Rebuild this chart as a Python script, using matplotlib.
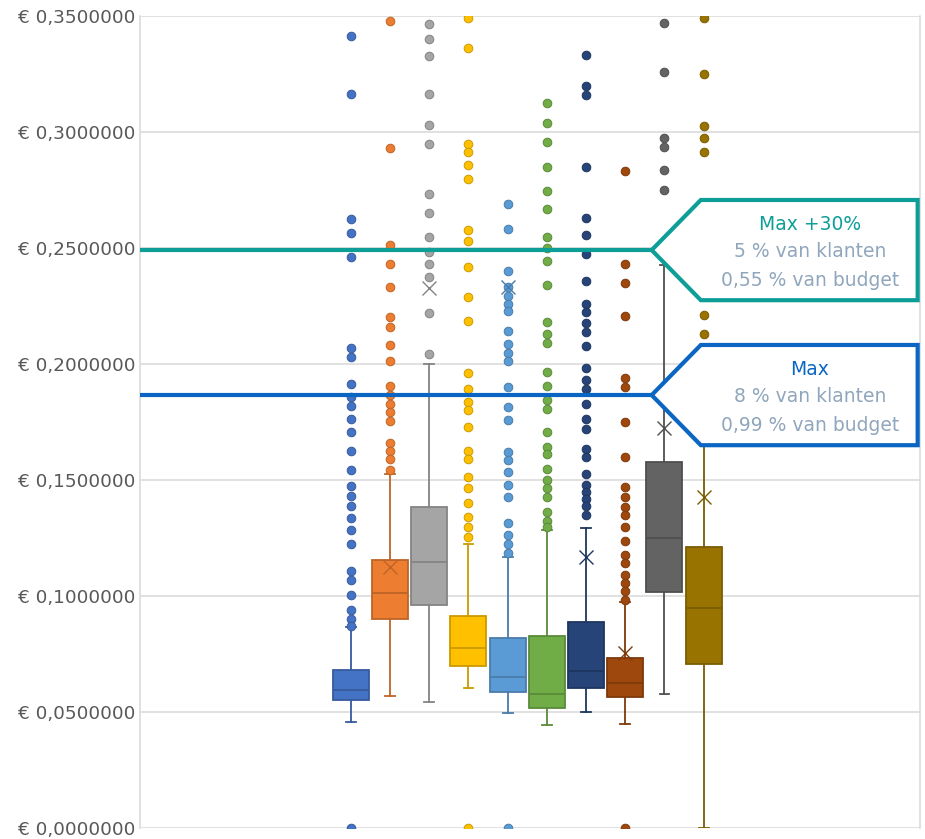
import matplotlib
matplotlib.use("Agg")
import matplotlib.pyplot as plt
from matplotlib.colors import to_rgb
from matplotlib.patches import Polygon
from matplotlib.ticker import FuncFormatter, MultipleLocator

nan = float("nan")

# ten series, Excel style box-and-whisker
series = ["R1", "R2", "R3", "R4", "R5", "R6", "R7", "R8", "R9", "R10"]
colors = ["#4472C4", "#ED7D31", "#A5A5A5", "#FFC000", "#5B9BD5",
          "#70AD47", "#264478", "#9E480E", "#636363", "#997300"]

q1 = [0.0552, 0.0901, 0.0961, 0.0698, 0.0586, 0.0517, 0.0603, 0.0565, 0.1017, 0.0707]
medians = [0.0595, 0.1013, 0.1147, 0.0776, 0.0651, 0.0578, 0.0677, 0.0625, 0.1250, 0.0948]
q3 = [0.0681, 0.1155, 0.1384, 0.0914, 0.0819, 0.0828, 0.0888, 0.0733, 0.1578, 0.1211]
whis_lo = [0.0457, 0.0569, 0.0543, 0.0603, 0.0496, 0.0444, 0.0500, 0.0448, 0.0578, 0.0000]
whis_hi = [0.0866, 0.1526, 0.2000, 0.1224, 0.1168, 0.1284, 0.1293, 0.0974, 0.2427, 0.1920]
# means that are hidden in the picture are left out
means = [nan, 0.1125, 0.2328, nan, 0.2332, nan, 0.1168, 0.0754, 0.1724, 0.1427]

outliers = [
    [0.3414, 0.3164, 0.2625, 0.2565, 0.2461, 0.2069, 0.2030, 0.1914, 0.1858, 0.1819,
     0.1763, 0.1707, 0.1625, 0.1543, 0.1474, 0.1431, 0.1388, 0.1336, 0.1284, 0.1224,
     0.1108, 0.1069, 0.1004, 0.0940, 0.0901, 0.0871, 0.0],
    [0.3478, 0.2931, 0.2513, 0.2431, 0.2332, 0.2203, 0.2159, 0.2082, 0.2013, 0.1905,
     0.1866, 0.1828, 0.1793, 0.1754, 0.1659, 0.1625, 0.1591, 0.1543],
    [0.3466, 0.3401, 0.3328, 0.3164, 0.3030, 0.2948, 0.2733, 0.2651, 0.2547, 0.2483,
     0.2431, 0.2375, 0.2220, 0.2043],
    [0.3491, 0.3362, 0.2948, 0.2914, 0.2858, 0.2797, 0.2578, 0.2530, 0.2418, 0.2289,
     0.2185, 0.1961, 0.1892, 0.1836, 0.1802, 0.1728, 0.1625, 0.1591, 0.1513, 0.1466,
     0.1401, 0.1341, 0.1297, 0.1254, 0.0],
    [0.2690, 0.2582, 0.2401, 0.2332, 0.2293, 0.2259, 0.2228, 0.2142, 0.2086, 0.2047,
     0.2013, 0.1901, 0.1815, 0.1759, 0.1621, 0.1586, 0.1534, 0.1478, 0.1427, 0.1315,
     0.1263, 0.1224, 0.1185, 0.0],
    [0.3125, 0.3039, 0.2957, 0.2849, 0.2746, 0.2668, 0.2547, 0.2500, 0.2444, 0.2341,
     0.2181, 0.2129, 0.2091, 0.1966, 0.1905, 0.1845, 0.1806, 0.1707, 0.1642, 0.1612,
     0.1547, 0.1500, 0.1466, 0.1427, 0.1362, 0.1323, 0.1297],
    [0.3332, 0.3198, 0.3159, 0.2849, 0.2629, 0.2556, 0.2474, 0.2358, 0.2259, 0.2224,
     0.2177, 0.2138, 0.2078, 0.1983, 0.1931, 0.1892, 0.1828, 0.1763, 0.1720, 0.1634,
     0.1599, 0.1526, 0.1478, 0.1448, 0.1418, 0.1388, 0.1349],
    [0.2832, 0.2431, 0.2349, 0.2207, 0.1940, 0.1901, 0.1750, 0.1599, 0.1470, 0.1427,
     0.1384, 0.1349, 0.1297, 0.1237, 0.1177, 0.1142, 0.1091, 0.1056, 0.1022, 0.0983, 0.0],
    [0.3470, 0.3259, 0.2974, 0.2935, 0.2836, 0.2750],
    [0.3491, 0.3250, 0.3026, 0.2974, 0.2914, 0.2211, 0.2129],
]

# reference lines with their callouts
max_line = 0.1866
max30_line = 0.2491
teal = "#0E9E98"
blue = "#0A66C2"
note_grey = "#90A6BD"


def darker(c, f=0.8):
    r, g, b = to_rgb(c)
    return (r * f, g * f, b * f)


fig = plt.figure(figsize=(9.25, 8.39), dpi=100)
ax = fig.add_axes([140 / 925, 11 / 839, 780 / 925, 812 / 839])

stats = []
for i in range(len(series)):
    stats.append(dict(label=series[i], med=medians[i], q1=q1[i], q3=q3[i],
                      whislo=whis_lo[i], whishi=whis_hi[i], mean=means[i],
                      fliers=outliers[i]))

art = ax.bxp(stats, positions=range(len(series)), widths=0.92, capwidths=0.25,
             patch_artist=True, showmeans=True, manage_ticks=False, zorder=3)

for i, c in enumerate(colors):
    dc = darker(c)
    art["boxes"][i].set(facecolor=c, edgecolor=dc, linewidth=1.3)
    art["medians"][i].set(color=dc, linewidth=1.3)
    for w in art["whiskers"][2 * i:2 * i + 2] + art["caps"][2 * i:2 * i + 2]:
        w.set(color=dc, linewidth=1.3)
    art["fliers"][i].set(marker="o", markersize=6.2, markerfacecolor=c,
                         markeredgecolor=dc, markeredgewidth=0.7)
    art["means"][i].set(marker="x", markersize=10, markeredgecolor=dc,
                        markeredgewidth=1.0)

ax.set_xlim(-5.38, 14.52)
ax.set_ylim(0, 0.35)
ax.yaxis.set_major_locator(MultipleLocator(0.05))
ax.yaxis.set_major_formatter(FuncFormatter(lambda v, p: "€ " + f"{v:.7f}".replace(".", ",")))
ax.set_xticks([])
ax.tick_params(axis="y", length=0, pad=3, labelsize=13.3, labelcolor="#595959")
ax.grid(axis="y", color="#D9D9D9", linewidth=1.1, zorder=0)
ax.set_axisbelow(True)
for s in ["top", "bottom"]:
    ax.spines[s].set_visible(False)
for s in ["left", "right"]:
    ax.spines[s].set_color("#D9D9D9")
    ax.spines[s].set_linewidth(1.1)

# callouts: x in axes fraction, y in data units
tr = ax.get_yaxis_transform()
h = 0.0216
for yv, col, lines in [
    (max30_line, teal, ["Max +30%", "5 % van klanten", "0,55 % van budget"]),
    (max_line, blue, ["Max", "8 % van klanten", "0,99 % van budget"]),
]:
    ax.axhline(yv, xmin=0, xmax=0.656, color=col, linewidth=3, zorder=6)
    poly = Polygon([(0.656, yv), (0.719, yv + h), (0.997, yv + h),
                    (0.997, yv - h), (0.719, yv - h)], closed=True,
                   transform=tr, facecolor="white", edgecolor=col,
                   linewidth=3, joinstyle="miter", zorder=6, clip_on=False)
    ax.add_patch(poly)
    ax.text(0.859, yv + 0.0112, lines[0], transform=tr, ha="center", va="center",
            fontsize=13.5, color=col, zorder=7)
    ax.text(0.859, yv - 0.0005, lines[1], transform=tr, ha="center", va="center",
            fontsize=13.5, color=note_grey, zorder=7)
    ax.text(0.859, yv - 0.0133, lines[2], transform=tr, ha="center", va="center",
            fontsize=13.5, color=note_grey, zorder=7)

fig.savefig("out.png", dpi=100)
